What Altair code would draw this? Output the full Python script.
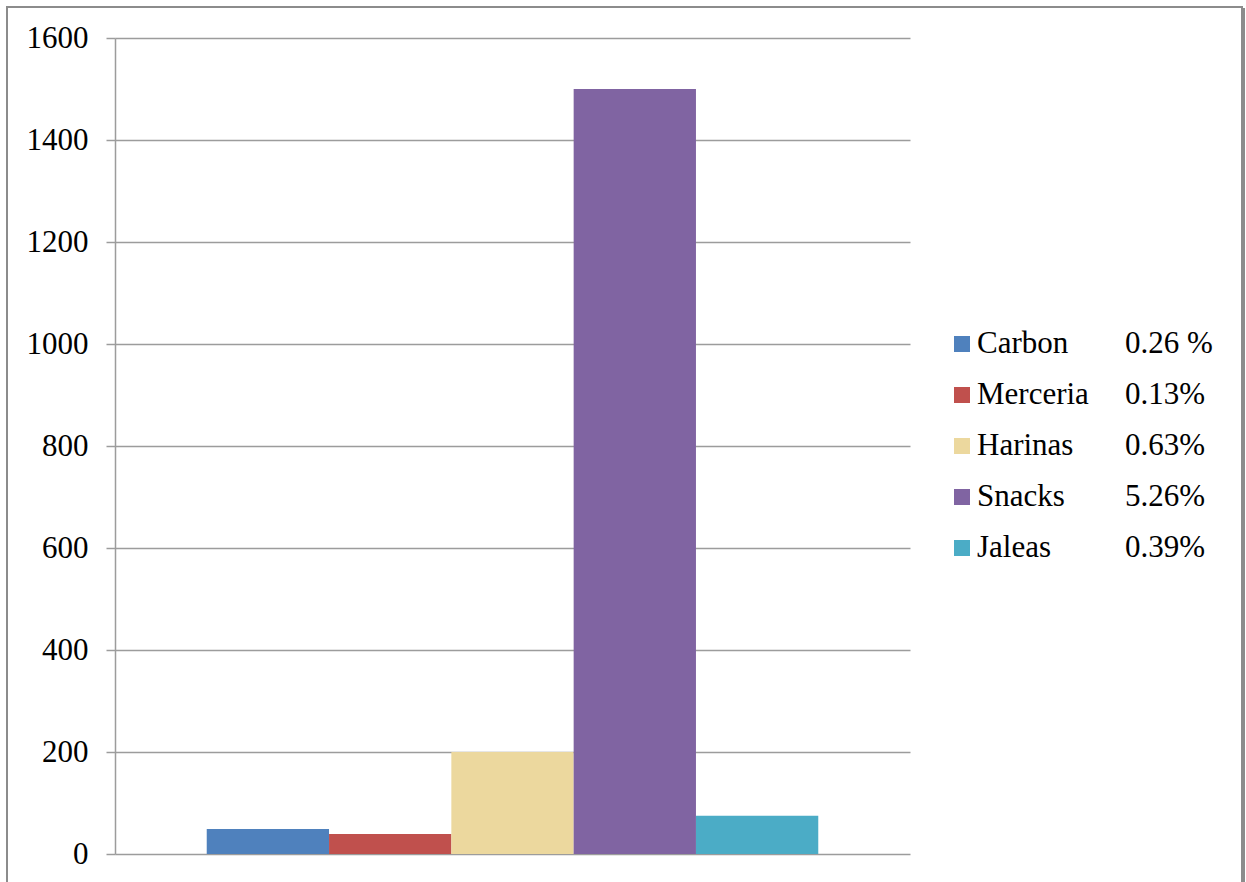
import altair as alt
import pandas as pd

categories = ["Carbon", "Merceria", "Harinas", "Snacks", "Jaleas"]
values = [49, 39, 200, 1500, 75]
percents = ["0.26 %", "0.13%", "0.63%", "5.26%", "0.39%"]
colors = ["#4F81BD", "#C0504D", "#ECD89E", "#8064A2", "#4BACC6"]
y_ticks = [0, 200, 400, 600, 800, 1000, 1200, 1400, 1600]

df = pd.DataFrame({"cat": categories, "value": values, "pct": percents})

FONT = "Liberation Serif"
GRID = "#9c9c9c"

color = alt.Color("cat:N", scale=alt.Scale(domain=categories, range=colors), legend=None)

bars = alt.Chart(df).mark_bar().encode(
    x=alt.X("cat:N", sort=categories, axis=None,
            scale=alt.Scale(paddingInner=0, paddingOuter=0.75)),
    y=alt.Y("value:Q", scale=alt.Scale(domain=[0, 1600], nice=False),
            axis=alt.Axis(values=y_ticks, format="d", title=None, labelFont=FONT,
                          labelFontSize=31, labelColor="#000000", labelPadding=18, tickSize=9,
                          tickColor=GRID, tickWidth=1.5, domainColor=GRID, domainWidth=1.5,
                          gridColor=GRID, gridWidth=1.5, grid=True, labelBaseline="middle")),
    color=color,
)

leg_y = alt.Y("cat:N", sort=categories, axis=None,
              scale=alt.Scale(type="point", range=[306, 510], padding=0))

leg_sq = alt.Chart(df).mark_point(shape="square", filled=True, size=256, opacity=1).encode(
    x=alt.value(847), y=leg_y, color=color)
leg_txt = alt.Chart(df).mark_text(align="left", baseline="middle", font=FONT, fontSize=31,
                                  color="#000000").encode(
    x=alt.value(862), y=leg_y, text="cat:N")
leg_pct = alt.Chart(df).mark_text(align="left", baseline="middle", font=FONT, fontSize=31,
                                  color="#000000").encode(
    x=alt.value(1010), y=leg_y, text="pct:N")

border = alt.Chart(df).mark_rect(fill=None, stroke="#8c8c8c", strokeWidth=2).encode(
    x=alt.value(-108), x2=alt.value(1127), y=alt.value(-31), y2=alt.value(870))
border_shadow = alt.Chart(df).mark_rule(stroke="#8c8c8c", strokeWidth=2).encode(
    x=alt.value(1129), y=alt.value(-30), y2=alt.value(870))

legend = alt.layer(leg_sq, leg_txt, leg_pct)

chart = alt.layer(border, border_shadow, bars, legend).resolve_scale(y="independent").properties(
    width=795, height=816,
    padding={"left": 115, "top": 38, "right": 336, "bottom": 28},
    autosize=alt.AutoSizeParams(type="none"),
    background="#ffffff",
).configure_view(stroke=None, clip=False)

chart.save("out.html", embed_options={"renderer": "svg", "actions": False})
